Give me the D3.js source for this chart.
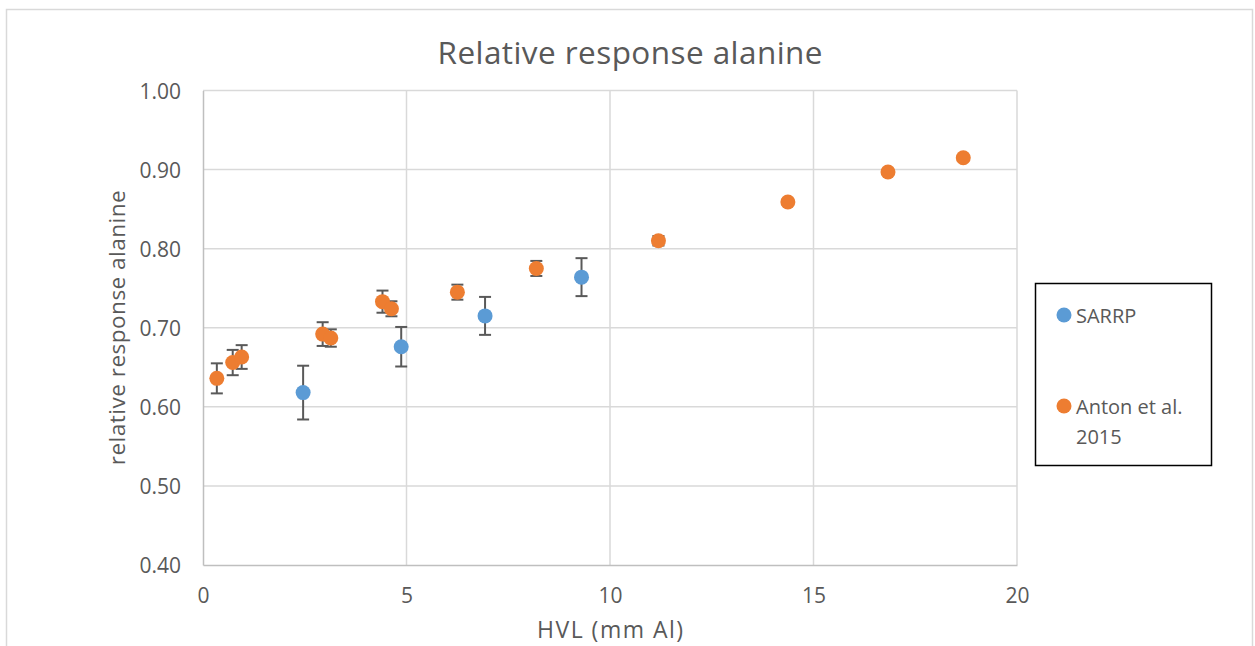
<!DOCTYPE html>
<html>
<head>
<meta charset="utf-8">
<script src="https://cdn.jsdelivr.net/npm/d3@7"></script>
<style>
  html, body { margin: 0; padding: 0; background: #fff; }
  svg { display: block; }
  text { font-family: "Open Sans", sans-serif; fill: #595959; }
</style>
</head>
<body>
<svg id="chart" width="1255" height="646"></svg>
<script>
// HVL (mm Al), relative response, and standard uncertainty for each data set
const sarrpHVL = [2.46, 4.87, 6.93, 9.30];
const sarrpResp = [0.618, 0.676, 0.715, 0.764];
const sarrpErr = [0.034, 0.025, 0.024, 0.024];

const antonHVL = [0.34, 0.73, 0.95, 2.94, 3.14, 4.41, 4.63, 6.25, 8.19, 11.19, 14.37, 16.83, 18.68];
const antonResp = [0.636, 0.656, 0.663, 0.692, 0.687, 0.733, 0.724, 0.745, 0.775, 0.810, 0.859, 0.897, 0.915];
const antonErr = [0.019, 0.016, 0.015, 0.015, 0.011, 0.014, 0.0095, 0.0095, 0.0095, 0.006, 0.004, 0.004, 0.002];

const xTicks = [0, 5, 10, 15, 20];
const yTicks = [0.40, 0.50, 0.60, 0.70, 0.80, 0.90, 1.00];

const seriesNames = ["SARRP", "Anton et al. 2015"];
const seriesColors = ["#5b9bd5", "#ed7d31"];

const svg = d3.select("#chart");
const plot = { left: 203, right: 1017, top: 90.5, bottom: 565 };

const x = d3.scaleLinear().domain([0, 20]).range([plot.left, plot.right]);
const y = d3.scaleLinear().domain([0.4, 1.0]).range([plot.bottom, plot.top]);

// outer chart frame
svg.append("path")
  .attr("d", "M6.5,646 V9.5 H1252.5 V646")
  .attr("fill", "none").attr("stroke", "#d9d9d9").attr("stroke-width", 1.5);

// title
svg.append("text").attr("x", 630).attr("y", 64)
  .attr("text-anchor", "middle").attr("font-size", 31.5)
  .attr("textLength", 385).attr("lengthAdjust", "spacing")
  .text("Relative response alanine");

// gridlines
const grid = svg.append("g");
grid.selectAll(".gy").data(yTicks.slice(1)).join("line")
  .attr("x1", plot.left).attr("x2", plot.right)
  .attr("y1", d => y(d)).attr("y2", d => y(d))
  .attr("stroke", "#d9d9d9").attr("stroke-width", 1.5);
grid.selectAll(".gx").data(xTicks.slice(1)).join("line")
  .attr("x1", d => x(d)).attr("x2", d => x(d))
  .attr("y1", plot.top).attr("y2", plot.bottom)
  .attr("stroke", "#d9d9d9").attr("stroke-width", 1.5);

// axes
const xAxis = svg.append("g").attr("transform", `translate(0,${plot.bottom})`)
  .call(d3.axisBottom(x).tickValues(xTicks).tickSize(0).tickPadding(0).tickFormat(d3.format("d")));
const yAxis = svg.append("g").attr("transform", `translate(${plot.left},0)`)
  .call(d3.axisLeft(y).tickValues(yTicks).tickSize(0).tickPadding(22).tickFormat(d3.format(".2f")));
[xAxis, yAxis].forEach(a => {
  a.select(".domain").attr("stroke", "#bfbfbf").attr("stroke-width", 1.5);
  a.selectAll("text").attr("font-size", 21).attr("fill", "#595959").attr("font-family", "'Open Sans', sans-serif");
});
xAxis.selectAll("text").attr("dy", null).attr("y", 38);
yAxis.selectAll("text").attr("dy", null).attr("y", 7.5);

// axis titles
svg.append("text").attr("x", x(10)).attr("y", 638)
  .attr("text-anchor", "middle").attr("font-size", 23)
  .attr("textLength", 146).attr("lengthAdjust", "spacing").text("HVL (mm Al)");
svg.append("text").attr("transform", `translate(125,${(plot.top + plot.bottom) / 2}) rotate(-90)`)
  .attr("text-anchor", "middle").attr("font-size", 22.5)
  .attr("textLength", 275).attr("lengthAdjust", "spacing").text("relative response alanine");

// error bars and markers
function drawSeries(xs, ys, es, color) {
  const data = xs.map((v, i) => ({ x: v, y: ys[i], e: es[i] }));
  const g = svg.append("g");
  const eb = g.selectAll(".eb").data(data).join("g").attr("stroke", "#595959").attr("stroke-width", 2);
  eb.append("line").attr("x1", d => x(d.x)).attr("x2", d => x(d.x))
    .attr("y1", d => y(d.y + d.e)).attr("y2", d => y(d.y - d.e));
  eb.append("line").attr("x1", d => x(d.x) - 6).attr("x2", d => x(d.x) + 6)
    .attr("y1", d => y(d.y + d.e)).attr("y2", d => y(d.y + d.e));
  eb.append("line").attr("x1", d => x(d.x) - 6).attr("x2", d => x(d.x) + 6)
    .attr("y1", d => y(d.y - d.e)).attr("y2", d => y(d.y - d.e));
  g.selectAll("circle").data(data).join("circle")
    .attr("cx", d => x(d.x)).attr("cy", d => y(d.y)).attr("r", 7.5).attr("fill", color);
}
drawSeries(sarrpHVL, sarrpResp, sarrpErr, seriesColors[0]);
drawSeries(antonHVL, antonResp, antonErr, seriesColors[1]);

// legend
const lg = svg.append("g");
lg.append("rect").attr("x", 1035.5).attr("y", 283.5).attr("width", 176).attr("height", 182)
  .attr("fill", "#fff").attr("stroke", "#000").attr("stroke-width", 1.5);
const legendRows = [315, 406];
seriesNames.forEach((name, i) => {
  lg.append("circle").attr("cx", 1064).attr("cy", legendRows[i]).attr("r", 7.5).attr("fill", seriesColors[i]);
  const t = lg.append("text").attr("x", 1076).attr("y", legendRows[i] + 7.5).attr("font-size", 20);
  if (i === 1) {
    t.append("tspan").attr("x", 1076).text("Anton et al.");
    t.append("tspan").attr("x", 1076).attr("dy", 30.5).text("2015");
  } else {
    t.text(name);
  }
});
</script>
</body>
</html>
